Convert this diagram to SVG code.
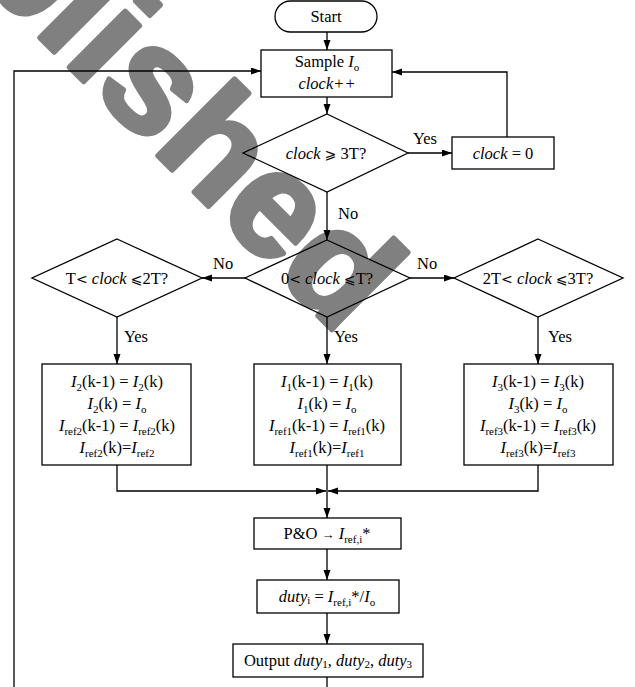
<svg xmlns="http://www.w3.org/2000/svg" width="635" height="687" viewBox="0 0 635 687">
<defs>
<marker id="ah" markerUnits="userSpaceOnUse" markerWidth="11" markerHeight="8" refX="10" refY="3.5" orient="auto">
<path d="M0,0 L10,3.5 L0,7 z" fill="#000"/>
</marker>
<style>
.shape{fill:none;stroke:#000;stroke-width:1.3}
.wire{fill:none;stroke:#000;stroke-width:1.3}
.arr{marker-end:url(#ah)}
text{font-family:"Liberation Serif","Times New Roman",serif;font-size:16.5px;fill:#000}
.c{text-anchor:middle}
.i{font-style:italic}
.s{font-size:11px}
.ar{font-size:13px}
.rel{font-family:"DejaVu Sans","Liberation Serif",serif;font-size:14px}
.wm{font-family:"Liberation Sans",Arial,sans-serif;font-weight:bold;font-size:150px;fill:#808080;stroke:#808080;stroke-width:5;stroke-linejoin:round}
</style>
</defs>
<rect width="635" height="687" fill="#fff"/>
<text class="wm" transform="translate(-168,-170) rotate(45)">Published</text>

<g id="connectors">
<path class="wire arr" d="M327,32 V50"/>
<path class="wire arr" d="M327,97 V114"/>
<path class="wire arr" d="M408,153 H452"/>
<path class="wire arr" d="M507,137 V72 H392"/>
<path class="wire arr" d="M327,192 V240"/>
<path class="wire arr" d="M245,278 H202"/>
<path class="wire arr" d="M410,278 H454"/>
<path class="wire arr" d="M117,317 V364"/>
<path class="wire arr" d="M327,317 V364"/>
<path class="wire arr" d="M538,317 V364"/>
<path class="wire arr" d="M117,465 V491 H326"/>
<path class="wire arr" d="M538,465 V491 H328"/>
<path class="wire arr" d="M327,465 V518"/>
<path class="wire arr" d="M327,549 V580"/>
<path class="wire arr" d="M327,613 V644"/>
<path class="wire" d="M327,677 V687"/>
<path class="wire arr" d="M14,687 V71 H261"/>
<text x="413" y="144">Yes</text>
<text x="338" y="219">No</text>
<text x="213" y="269">No</text>
<text x="417" y="269">No</text>
<text x="124" y="342">Yes</text>
<text x="334" y="342">Yes</text>
<text x="548" y="342">Yes</text>
</g>

<g id="start">
<rect class="shape" x="275" y="1" width="102" height="31" rx="15.5"/>
<text class="c" x="326" y="22">Start</text>
</g>

<g id="sample">
<rect class="shape" x="261" y="50" width="131" height="47"/>
<text class="c" x="327" y="67">Sample <tspan class="i">I</tspan><tspan class="s" dy="4">o</tspan></text>
<text class="c i" x="327" y="89">clock++</text>
</g>

<g id="check3T">
<polygon class="shape" points="327,114 408,153 327,192 243,153"/>
<text class="c" x="326" y="159"><tspan class="i">clock</tspan> <tspan class="rel">⩾</tspan> 3T?</text>
</g>

<g id="reset">
<rect class="shape" x="452" y="137" width="102" height="32"/>
<text class="c" x="503" y="159"><tspan class="i">clock</tspan> = 0</text>
</g>

<g id="range1">
<polygon class="shape" points="327,240 410,278 327,317 245,278"/>
<text class="c" x="327" y="284">0<tspan class="rel">&lt;</tspan> <tspan class="i">clock</tspan> <tspan class="rel">⩽</tspan>T?</text>
</g>

<g id="range2">
<polygon class="shape" points="117,239 202,278 117,317 32,278"/>
<text class="c" x="117" y="284">T<tspan class="rel">&lt;</tspan> <tspan class="i">clock</tspan> <tspan class="rel">⩽</tspan>2T?</text>
</g>

<g id="range3">
<polygon class="shape" points="538,239 623,278 538,317 454,278"/>
<text class="c" x="538" y="284">2T<tspan class="rel">&lt;</tspan> <tspan class="i">clock</tspan> <tspan class="rel">⩽</tspan>3T?</text>
</g>

<g id="update2">
<rect class="shape" x="42" y="364" width="149" height="101"/>
<text class="c" x="117" y="387"><tspan class="i">I</tspan><tspan class="s" dy="4">2</tspan><tspan dy="-4">(k-1) = </tspan><tspan class="i">I</tspan><tspan class="s" dy="4">2</tspan><tspan dy="-4">(k)</tspan></text>
<text class="c" x="117" y="409"><tspan class="i">I</tspan><tspan class="s" dy="4">2</tspan><tspan dy="-4">(k) = </tspan><tspan class="i">I</tspan><tspan class="s" dy="4">o</tspan></text>
<text class="c" x="117" y="431"><tspan class="i">I</tspan><tspan class="s" dy="4">ref2</tspan><tspan dy="-4">(k-1) = </tspan><tspan class="i">I</tspan><tspan class="s" dy="4">ref2</tspan><tspan dy="-4">(k)</tspan></text>
<text class="c" x="117" y="453"><tspan class="i">I</tspan><tspan class="s" dy="4">ref2</tspan><tspan dy="-4">(k)=</tspan><tspan class="i">I</tspan><tspan class="s" dy="4">ref2</tspan></text>
</g>

<g id="update1">
<rect class="shape" x="254" y="364" width="147" height="101"/>
<text class="c" x="327" y="387"><tspan class="i">I</tspan><tspan class="s" dy="4">1</tspan><tspan dy="-4">(k-1) = </tspan><tspan class="i">I</tspan><tspan class="s" dy="4">1</tspan><tspan dy="-4">(k)</tspan></text>
<text class="c" x="327" y="409"><tspan class="i">I</tspan><tspan class="s" dy="4">1</tspan><tspan dy="-4">(k) = </tspan><tspan class="i">I</tspan><tspan class="s" dy="4">o</tspan></text>
<text class="c" x="327" y="431"><tspan class="i">I</tspan><tspan class="s" dy="4">ref1</tspan><tspan dy="-4">(k-1) = </tspan><tspan class="i">I</tspan><tspan class="s" dy="4">ref1</tspan><tspan dy="-4">(k)</tspan></text>
<text class="c" x="327" y="453"><tspan class="i">I</tspan><tspan class="s" dy="4">ref1</tspan><tspan dy="-4">(k)=</tspan><tspan class="i">I</tspan><tspan class="s" dy="4">ref1</tspan></text>
</g>

<g id="update3">
<rect class="shape" x="464" y="364" width="149" height="101"/>
<text class="c" x="538" y="387"><tspan class="i">I</tspan><tspan class="s" dy="4">3</tspan><tspan dy="-4">(k-1) = </tspan><tspan class="i">I</tspan><tspan class="s" dy="4">3</tspan><tspan dy="-4">(k)</tspan></text>
<text class="c" x="538" y="409"><tspan class="i">I</tspan><tspan class="s" dy="4">3</tspan><tspan dy="-4">(k) = </tspan><tspan class="i">I</tspan><tspan class="s" dy="4">o</tspan></text>
<text class="c" x="538" y="431"><tspan class="i">I</tspan><tspan class="s" dy="4">ref3</tspan><tspan dy="-4">(k-1) = </tspan><tspan class="i">I</tspan><tspan class="s" dy="4">ref3</tspan><tspan dy="-4">(k)</tspan></text>
<text class="c" x="538" y="453"><tspan class="i">I</tspan><tspan class="s" dy="4">ref3</tspan><tspan dy="-4">(k)=</tspan><tspan class="i">I</tspan><tspan class="s" dy="4">ref3</tspan></text>
</g>

<g id="po">
<rect class="shape" x="254" y="518" width="147" height="31"/>
<text class="c" x="327" y="539">P&amp;O <tspan class="ar">→</tspan> <tspan class="i">I</tspan><tspan class="s" dy="4">ref,i</tspan><tspan dy="-4">*</tspan></text>
</g>

<g id="duty">
<rect class="shape" x="257" y="580" width="142" height="33"/>
<text class="c" x="327" y="602"><tspan class="i">duty</tspan><tspan class="s" dy="2">i</tspan><tspan dy="-2"> = </tspan><tspan class="i">I</tspan><tspan class="s" dy="4">ref,i</tspan><tspan dy="-4">*/</tspan><tspan class="i">I</tspan><tspan class="s" dy="4">o</tspan></text>
</g>

<g id="output">
<rect class="shape" x="233" y="644" width="190" height="33"/>
<text class="c" x="328" y="666">Output <tspan class="i">duty</tspan><tspan class="s" dy="2">1</tspan><tspan dy="-2">, </tspan><tspan class="i">duty</tspan><tspan class="s" dy="2">2</tspan><tspan dy="-2">, </tspan><tspan class="i">duty</tspan><tspan class="s" dy="2">3</tspan></text>
</g>
</svg>
